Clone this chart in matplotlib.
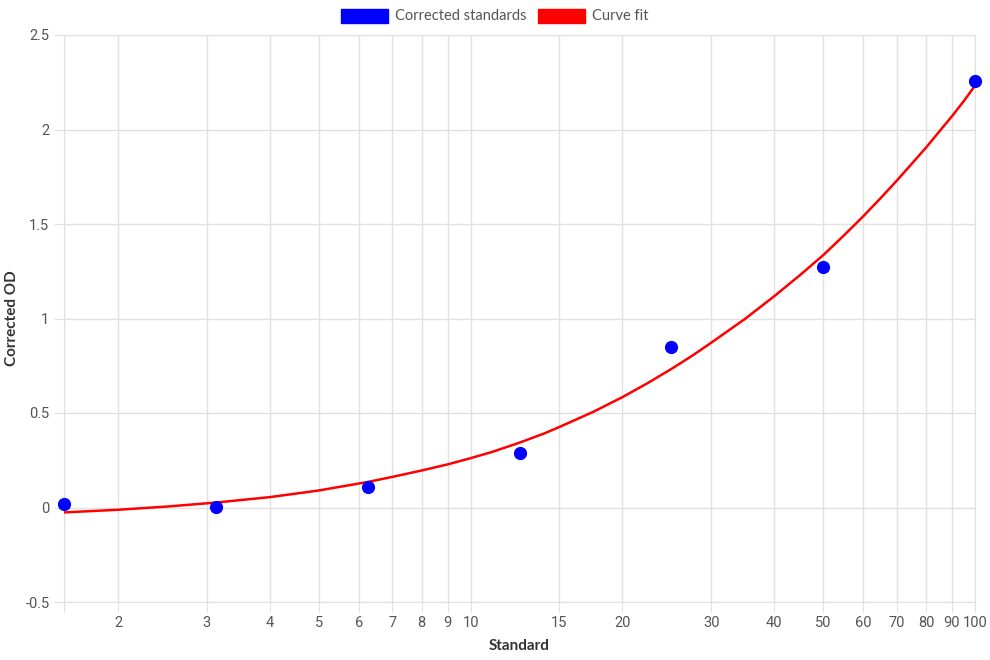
import matplotlib.pyplot as plt
from matplotlib.patches import Patch
from matplotlib.ticker import FixedLocator, NullLocator, FuncFormatter

# measured standards
standards = [1.5625, 3.125, 6.25, 12.5, 25, 50, 100]
corrected_od = [0.016, 0.003, 0.11, 0.29, 0.85, 1.275, 2.257]

# curve fit
fit_x = [1.5625, 2, 2.5, 3.125, 4, 5, 6.25, 7, 8, 9, 10, 11, 12.5, 14, 15,
         17.5, 20, 22.5, 25, 27.5, 30, 35, 40, 45, 50, 55, 60, 65, 70, 75,
         80, 85, 90, 95, 100]
fit_y = [-0.026, -0.012, 0.005, 0.026, 0.055, 0.09, 0.135, 0.162, 0.196,
         0.228, 0.261, 0.293, 0.343, 0.392, 0.426, 0.506, 0.584, 0.66, 0.733,
         0.803, 0.872, 0.998, 1.118, 1.23, 1.335, 1.44, 1.54, 1.637, 1.73,
         1.82, 1.905, 1.99, 2.07, 2.15, 2.232]

x_ticks = [2, 3, 4, 5, 6, 7, 8, 9, 10, 15, 20, 30, 40, 50, 60, 70, 80, 90, 100]
y_ticks = [-0.5, 0, 0.5, 1, 1.5, 2, 2.5]

plt.rcParams['font.family'] = ['Roboto', 'DejaVu Sans']

fig = plt.figure(figsize=(9.9, 6.6), dpi=100)
ax = fig.add_axes([64 / 990, 58 / 660, 911 / 990, 567 / 660])

ax.plot(fit_x, fit_y, color='red', lw=1.8, zorder=3,
        solid_joinstyle='round')
ax.scatter(standards, corrected_od, s=72, color='blue', zorder=4,
           clip_on=False)

ax.set_xscale('log')
ax.set_xlim(1.5625, 100)
ax.set_ylim(-0.5, 2.5)

ax.xaxis.set_major_locator(FixedLocator([1.5625] + x_ticks))
ax.xaxis.set_minor_locator(NullLocator())
ax.xaxis.set_major_formatter(
    FuncFormatter(lambda v, p: '' if v < 2 else '%g' % v))
ax.set_yticks(y_ticks)
ax.yaxis.set_major_formatter(FuncFormatter(lambda v, p: '%g' % v))

ax.grid(True, color='#e1e1e1', lw=1)
ax.set_axisbelow(True)
for s in ax.spines.values():
    s.set_color('#e1e1e1')
ax.tick_params(colors='#e1e1e1', labelcolor='#555555', length=7,
               labelsize=10.5)
ax.tick_params(axis='x', pad=3)

ax.set_xlabel('Standard', fontsize=11, fontweight='bold', color='#333333',
              family=['Lato', 'DejaVu Sans'])
ax.set_ylabel('Corrected OD', fontsize=11, fontweight='bold',
              color='#333333', family=['Lato', 'DejaVu Sans'])
ax.xaxis.set_label_coords(0.5, -0.078)
ax.yaxis.set_label_coords(-0.057, 0.5)
ax.xaxis.label.set_va('center')
ax.yaxis.label.set_va('center')

handles = [Patch(facecolor='blue', edgecolor='blue', label='Corrected standards'),
           Patch(facecolor='red', edgecolor='red', label='Curve fit')]
fig.legend(handles=handles, loc='center', bbox_to_anchor=(0.5, 1 - 16 / 660),
           ncol=2, frameon=False, handlelength=3.2, handleheight=1.1,
           handletextpad=0.5, columnspacing=0.8,
           prop={'family': ['Lato', 'DejaVu Sans'], 'size': 10.5},
           labelcolor='#555555')

fig.savefig('out.png', dpi=100)
